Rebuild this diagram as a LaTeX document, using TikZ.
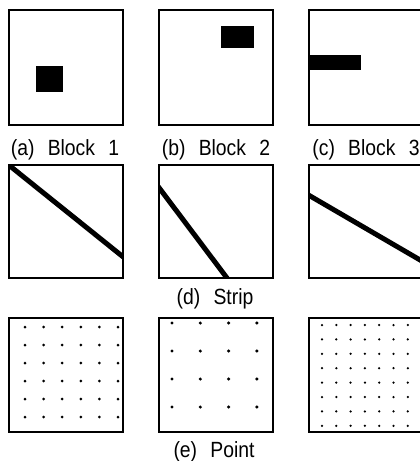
\documentclass[tikz,border=0pt]{standalone}
\usepackage{fontspec}
\setmainfont[FakeStretch=0.88]{Liberation Sans}
\begin{document}
\begin{tikzpicture}[x=1pt,y=-1pt,
  frame/.style={draw=black,line width=1.2pt},
  blk/.style={fill=black},
  strip/.style={line width=5pt,black},
  dot/.style={fill=black},
  lbl/.style={anchor=base,inner sep=0pt,font=\fontsize{22}{24}\selectfont}]
\useasboundingbox (0,0) rectangle (420,461);
\clip (0,0) rectangle (420,461);
% Row 1: blocks
\draw[frame] (9,10) rectangle (123,125);
\fill[blk] (36,66) rectangle (63,92);
\draw[frame] (159,10) rectangle (273,125);
\fill[blk] (221,26) rectangle (254,48);
\draw[frame] (309,10) rectangle (423,125);
\fill[blk] (309,55) rectangle (361,70);
\node[lbl] (la) at (65,155) {(a)\hspace{0.6em}Block\hspace{0.6em}1};
\node[lbl] (lb) at (216,155) {(b)\hspace{0.6em}Block\hspace{0.6em}2};
\node[lbl] (lc) at (366,155) {(c)\hspace{0.6em}Block\hspace{0.6em}3};
% Row 2: strips
\begin{scope}
\clip (9,165) rectangle (123,278);
\draw[strip] (5,162) -- (127,260);
\end{scope}
\begin{scope}
\clip (159,165) rectangle (273,278);
\draw[strip] (157,185) -- (230,282);
\end{scope}
\begin{scope}
\clip (309,165) rectangle (423,278);
\draw[strip] (305,193) -- (427,264);
\end{scope}
\draw[frame] (9,165) rectangle (123,278);
\draw[frame] (159,165) rectangle (273,278);
\draw[frame] (309,165) rectangle (423,278);
\node[lbl] (ld) at (215,304) {(d)\hspace{0.6em}Strip};
% Row 3: points
\draw[frame] (9,318) rectangle (123,432);
\foreach \i in {0,...,5}{\foreach \j in {0,...,5}{
  \fill[dot] (25+\i*18.6,327+\j*18) circle (1.5);}}
\draw[frame] (159,318) rectangle (273,432);
\foreach \i in {0,...,3}{\foreach \j in {0,...,3}{
  \fill[dot] (172+\i*28.3,323+\j*28) circle (1.7);}}
\draw[frame] (309,318) rectangle (423,432);
\foreach \i in {0,...,6}{\foreach \j in {0,...,7}{
  \fill[dot] (322+\i*14.3,325+\j*14.4) circle (1.25);}}
\node[lbl] (le) at (214,457) {(e)\hspace{0.6em}Point};
\end{tikzpicture}
\end{document}
